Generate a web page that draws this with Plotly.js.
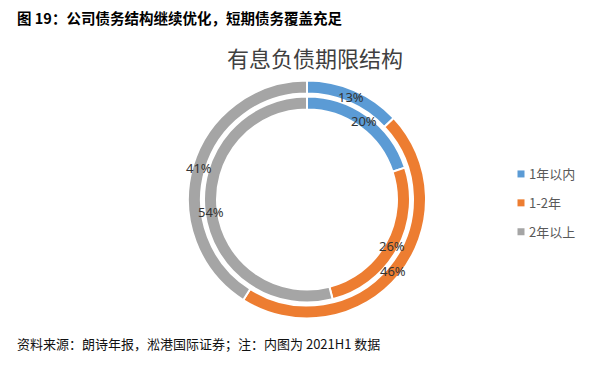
<!DOCTYPE html>
<html>
<head>
<meta charset="utf-8">
<script src="https://cdn.plot.ly/plotly-3.0.1.min.js"></script>
<style>html,body{margin:0;padding:0;background:#fff;}#chart{width:594px;height:365px;}</style>
</head>
<body>
<div id="chart"></div>
<script>
// ---- data ----
const categories = ['1年以内', '1-2年', '2年以上'];
const outerValues = [13, 46, 41];   // 2021
const innerValues = [20, 26, 54];   // 2021H1
const colors = ['#5B9BD5', '#ED7D31', '#A5A5A5'];
const chartTitle = '有息负债期限结构';
const headerText = '图 19：公司债务结构继续优化，短期债务覆盖充足';
const footerText = '资料来源：朗诗年报，淞港国际证券；注：内图为 2021H1 数据';

// ---- geometry (layout only) ----
const W = 594, H = 365;
const cx = 307, cy = 199.5;
const rOuter = 119, rOuterHole = 106;
const rInner = 103, rInnerHole = 90;

function dom(r) {
  return {
    x: [(cx - r) / W, (cx + r) / W],
    y: [1 - (cy + r) / H, 1 - (cy - r) / H]
  };
}

const cjk = '"Noto Sans CJK SC", "Noto Sans", sans-serif';
const latin = '"Noto Sans", "Open Sans", "Noto Sans CJK SC", sans-serif';

const outerPie = {
  type: 'pie', labels: categories, values: outerValues, sort: false,
  direction: 'clockwise', rotation: 0, hole: rOuterHole / rOuter,
  domain: dom(rOuter), marker: {colors: colors, line: {color: '#fff', width: 2}},
  textinfo: 'none', showlegend: false, hoverinfo: 'label+percent'
};
const innerPie = {
  type: 'pie', labels: categories, values: innerValues, sort: false,
  direction: 'clockwise', rotation: 0, hole: rInnerHole / rInner,
  domain: dom(rInner), marker: {colors: colors, line: {color: '#fff', width: 2}},
  textinfo: 'none', showlegend: false, hoverinfo: 'label+percent'
};

// legend entries (small square markers)
const legendTraces = categories.map((c, i) => ({
  type: 'scatter', mode: 'markers', x: [null], y: [null], name: c,
  legendgroup: 'g' + i,
  marker: {symbol: 'square', size: 7, color: colors[i]},
  showlegend: true, hoverinfo: 'skip'
}));

// data labels computed from the values
function labelAnns(values, rMid) {
  const total = values.reduce((a, b) => a + b, 0);
  let cum = 0;
  return values.map(v => {
    const mid = (cum + v / 2) / total * 2 * Math.PI;
    cum += v;
    const px = cx + rMid * Math.sin(mid);
    const py = cy - rMid * Math.cos(mid);
    return {
      xref: 'paper', yref: 'paper', x: px / W, y: 1 - py / H,
      text: Math.round(v / total * 100) + '%', showarrow: false,
      font: {family: latin, size: 13, color: '#333'},
      xanchor: 'center', yanchor: 'middle'
    };
  });
}

const annotations = [
  ...labelAnns(outerValues, 112),
  ...labelAnns(innerValues, 97),
  {xref: 'paper', yref: 'paper', x: 15 / W, y: 1 - 17 / H, xanchor: 'left', yanchor: 'middle',
   text: '<b>' + headerText + '</b>', showarrow: false,
   font: {family: cjk, size: 14.5, color: '#000'}},
  {xref: 'paper', yref: 'paper', x: 15 / W, y: 1 - 343 / H, xanchor: 'left', yanchor: 'middle',
   text: footerText, showarrow: false,
   font: {family: cjk, size: 13, color: '#111'}},
  {xref: 'paper', yref: 'paper', x: 315 / W, y: 1 - 57 / H, xanchor: 'center', yanchor: 'middle',
   text: chartTitle, showarrow: false,
   font: {family: cjk, size: 22, color: '#404040'}}
];

const layout = {
  width: W, height: H,
  margin: {l: 0, r: 0, t: 0, b: 0},
  paper_bgcolor: '#fff', plot_bgcolor: 'rgba(0,0,0,0)',
  xaxis: {visible: false, fixedrange: true},
  yaxis: {visible: false, fixedrange: true},
  showlegend: true,
  legend: {
    x: 489 / W, y: 1 - 159 / H, xanchor: 'left', yanchor: 'top',
    font: {family: cjk, size: 13, color: '#595959'},
    traceorder: 'grouped', tracegroupgap: 9,
    itemwidth: 30, bgcolor: 'rgba(0,0,0,0)'
  },
  annotations: annotations
};

Plotly.newPlot('chart', [outerPie, innerPie, ...legendTraces], layout, {displayModeBar: false, staticPlot: true})
  .then(gd => {
    // move legend swatches closer to their text, as in the reference
    gd.querySelectorAll('.legend .legendpoints').forEach(el => el.setAttribute('transform', 'translate(12,0)'));
  });
</script>
</body>
</html>
